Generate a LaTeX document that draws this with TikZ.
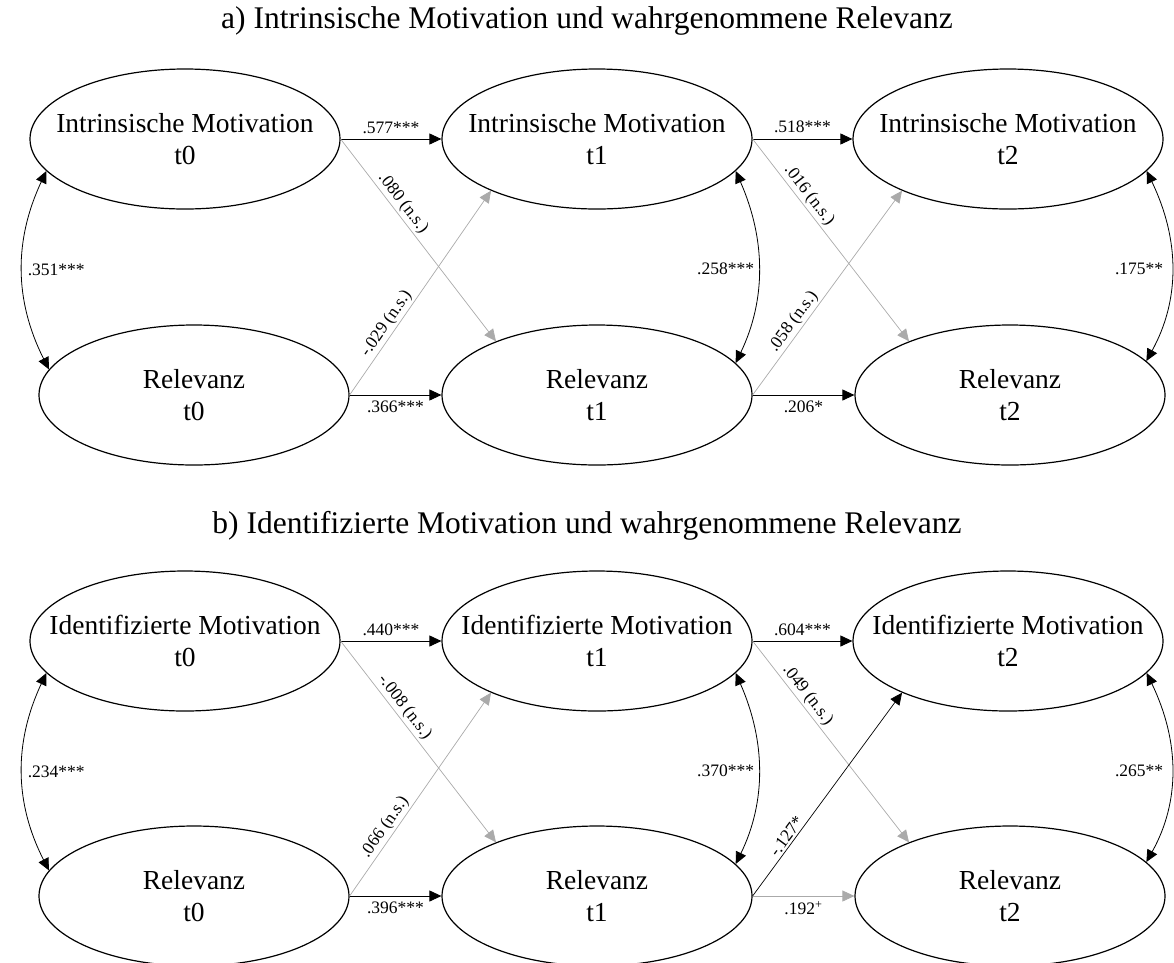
\documentclass[tikz,border=0pt]{standalone}
\usepackage{fontspec}
\setmainfont{Liberation Serif}
\usetikzlibrary{shapes.geometric,arrows.meta}
\definecolor{lgray}{HTML}{AAAAAA}
\tikzset{
  lat/.style={ellipse,draw,line width=1.2pt,minimum width=310pt,minimum height=140pt,inner sep=0pt},
  txt/.style={align=center,inner sep=0pt,font=\fontsize{27.5}{32.5}\selectfont},
  lab/.style={font=\fontsize{17.5}{20}\selectfont,inner sep=2pt,text=black},
  ttl/.style={font=\fontsize{31.5}{36}\selectfont},
  blk/.style={line width=0.9pt,-{Triangle[length=12pt,width=11pt]}},
  gry/.style={line width=0.7pt,color=lgray,-{Triangle[length=12pt,width=11pt]}},
  cov/.style={line width=0.8pt,{Triangle[length=12pt,width=11pt]}-{Triangle[length=12pt,width=11pt]}},
}
\newcommand\latnode[4]{\node[lat] (#1) at (#2) {}; \node[txt] (#1t) at (#1) {#3\\#4};}
\begin{document}
\begin{tikzpicture}[x=1pt,y=-1pt]
\useasboundingbox (0,0) rectangle (1174,962);
% ---------- panel a
\node[ttl] (ta) at (587,21) {a) Intrinsische Motivation und wahrgenommene Relevanz};
\latnode{a0}{185,139}{Intrinsische Motivation}{t0}
\latnode{b0}{194,395}{Relevanz}{t0}
\latnode{a1}{597,139}{Intrinsische Motivation}{t1}
\latnode{b1}{597,395}{Relevanz}{t1}
\latnode{a2}{1008,139}{Intrinsische Motivation}{t2}
\latnode{b2}{1010,395}{Relevanz}{t2}
\draw[blk] (a0.east) -- node[lab,above=3pt]{.577***} (a1.west);
\draw[blk] (b0.east) -- node[lab,below=3pt]{.366***} (b1.west);
\draw[blk] (a1.east) -- node[lab,above=4pt]{.518***} (a2.west);
\draw[blk] (b1.east) -- node[lab,below=3pt]{.206*} (b2.west);
\draw[gry] (a0.east) -- node[lab,pos=0.35,sloped,above]{.080 (n.s.)} (b1.152);
\draw[gry] (b0.east) -- node[lab,pos=0.32,sloped,above]{-.029 (n.s.)} (a1.206);
\draw[gry] (a1.east) -- node[lab,pos=0.31,sloped,above]{.016 (n.s.)} (b2.152);
\draw[gry] (b1.east) -- node[lab,pos=0.33,sloped,above]{.058 (n.s.)} (a2.206);
\draw[cov] (a0.193) .. controls (14,240) and (14,300) .. (b0.170) node[lab,pos=0.5,right=3pt]{.351***};
\draw[cov] (a1.-13) .. controls (766,240) and (766,300) .. (b1.13) node[lab,pos=0.5,left=2pt]{.258***};
\draw[cov] (a2.-13) .. controls (1180,240) and (1180,300) .. (b2.14) node[lab,pos=0.5,left=6pt]{.175**};
% ---------- panel b
\node[ttl] (tb) at (587,526) {b) Identifizierte Motivation und wahrgenommene Relevanz};
\latnode{c0}{185,641}{Identifizierte Motivation}{t0}
\latnode{d0}{194,896}{Relevanz}{t0}
\latnode{c1}{597,641}{Identifizierte Motivation}{t1}
\latnode{d1}{597,896}{Relevanz}{t1}
\latnode{c2}{1008,641}{Identifizierte Motivation}{t2}
\latnode{d2}{1010,896}{Relevanz}{t2}
\draw[blk] (c0.east) -- node[lab,above=3pt]{.440***} (c1.west);
\draw[blk] (d0.east) -- node[lab,below=3pt]{.396***} (d1.west);
\draw[blk] (c1.east) -- node[lab,above=3pt]{.604***} (c2.west);
\draw[gry] (d1.east) -- node[lab,below=3pt]{.192\textsuperscript{+}} (d2.west);
\draw[gry] (c0.east) -- node[lab,pos=0.36,sloped,above]{-.008 (n.s.)} (d1.152);
\draw[gry] (d0.east) -- node[lab,pos=0.31,sloped,above]{.066 (n.s.)} (c1.206);
\draw[gry] (c1.east) -- node[lab,pos=0.30,sloped,above]{.049 (n.s.)} (d2.152);
\draw[blk,line width=0.7pt] (d1.east) -- node[lab,pos=0.27,sloped,above]{-.127*} (c2.206);
\draw[cov] (c0.193) .. controls (14,742) and (14,802) .. (d0.170) node[lab,pos=0.5,right=3pt]{.234***};
\draw[cov] (c1.-13) .. controls (766,742) and (766,802) .. (d1.13) node[lab,pos=0.5,left=2pt]{.370***};
\draw[cov] (c2.-13) .. controls (1180,742) and (1180,802) .. (d2.14) node[lab,pos=0.5,left=6pt]{.265**};
\end{tikzpicture}
\end{document}
